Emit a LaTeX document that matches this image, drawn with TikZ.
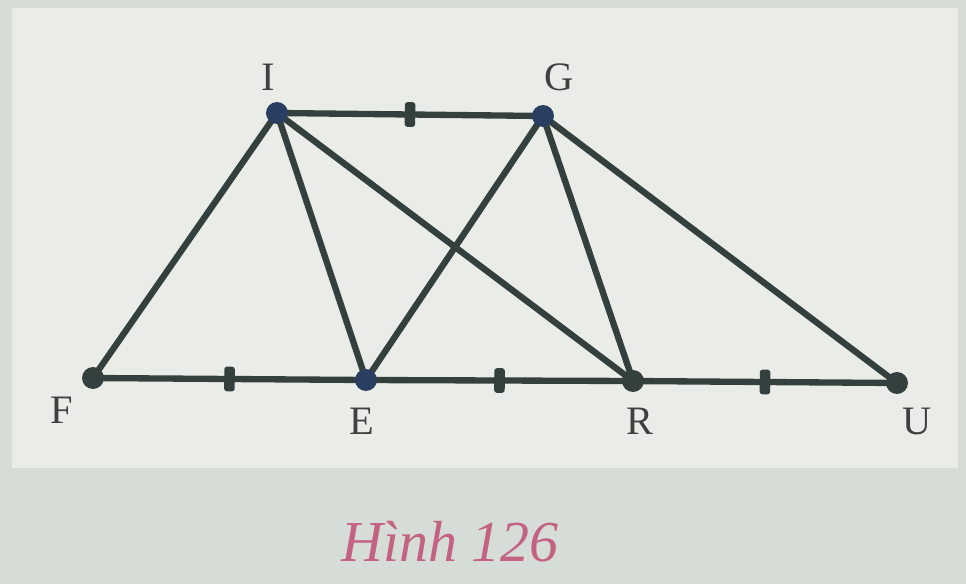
\documentclass[tikz,border=0pt]{standalone}
\usepackage{fontspec}
\setmainfont{Liberation Serif}
\usepackage{xcolor}
\usepackage{tikz}
\usetikzlibrary{positioning, backgrounds}
\definecolor{paperdark}{RGB}{214,220,214}
\definecolor{paperlight}{RGB}{234,237,231}
\definecolor{edgegray}{RGB}{52,64,62}
\definecolor{dotblue}{RGB}{42,62,98}
\definecolor{captionpink}{RGB}{196,98,132}
\tikzstyle{edge} = [line width=3.6pt, draw=edgegray, line cap=round]
\tikzstyle{dot} = [circle, fill=edgegray, inner sep=0pt, minimum size=12.5pt]
\tikzstyle{tickmark} = [rectangle, fill=edgegray, inner sep=0pt, minimum width=6pt, minimum height=14pt, rounded corners=1.5pt]
\tikzstyle{ptlabel} = [font=\fontsize{23}{26}\selectfont, text=black!75, inner sep=0pt]

\begin{document}
\begin{tikzpicture}[x=0.02cm, y=-0.02cm]

% paper
\fill[paperdark] (0,0) rectangle (966,584);
\fill[paperlight] (12,8) rectangle (958,468);
\useasboundingbox (0,0) rectangle (966,584);

% points
\coordinate (I) at (277,113);
\coordinate (G) at (543,116);
\coordinate (F) at (93,378);
\coordinate (E) at (366,380);
\coordinate (R) at (633,381);
\coordinate (U) at (897,383);

% segments
\draw [edge] (I) -- (G) node (tickIG) [tickmark, sloped, pos=0.5] {};
\draw [edge] (F) -- (E) node (tickFE) [tickmark, sloped, pos=0.5] {};
\draw [edge] (E) -- (R) node (tickER) [tickmark, sloped, pos=0.5] {};
\draw [edge] (R) -- (U) node (tickRU) [tickmark, sloped, pos=0.5] {};
\draw [edge] (F) -- (I);
\draw [edge] (I) -- (E);
\draw [edge] (I) -- (R);
\draw [edge] (G) -- (E);
\draw [edge] (G) -- (R);
\draw [edge] (G) -- (U);

% dots
\node (dotI) [dot, fill=dotblue] at (I) {};
\node (dotG) [dot, fill=dotblue] at (G) {};
\node (dotE) [dot, fill=dotblue] at (E) {};
\node (dotF) [dot] at (F) {};
\node (dotR) [dot] at (R) {};
\node (dotU) [dot] at (U) {};

% labels
\node (lblI) [ptlabel] at (268,77) {I};
\node (lblG) [ptlabel] at (559,77) {G};
\node (lblF) [ptlabel] at (62,410) {F};
\node (lblE) [ptlabel] at (362,421) {E};
\node (lblR) [ptlabel] at (640,421) {R};
\node (lblU) [ptlabel] at (917,421) {U};

\node (caption) [font=\fontsize{33}{38}\selectfont\itshape, text=captionpink] at (450,542) {Hình 126};

\end{tikzpicture}
\end{document}
